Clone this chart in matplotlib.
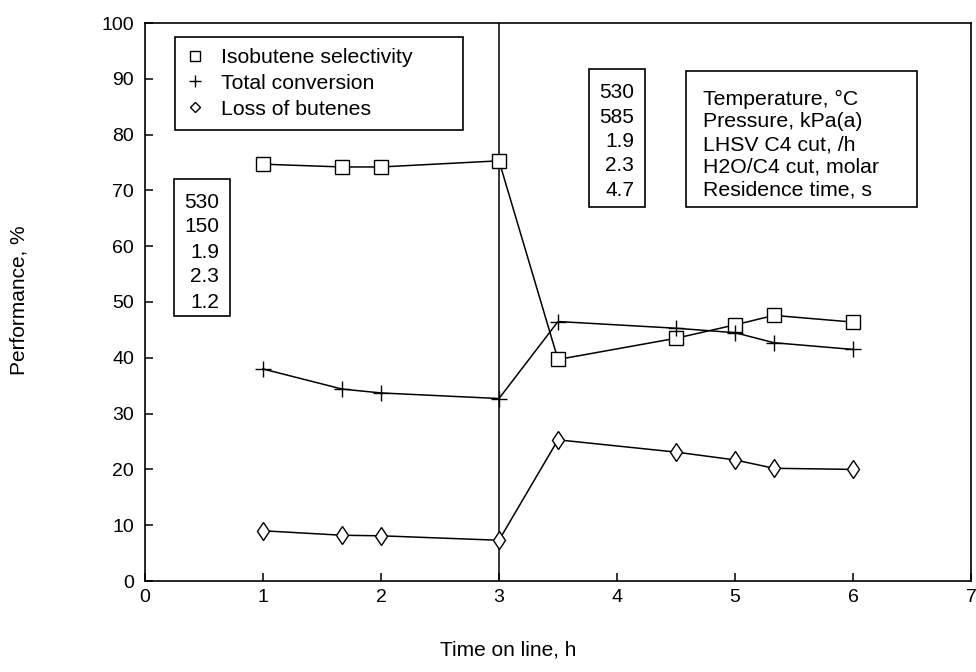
import matplotlib
matplotlib.use("Agg")
import matplotlib.pyplot as plt
from matplotlib.lines import Line2D
from matplotlib.patches import Rectangle

plt.rcParams['font.family'] = ['Liberation Sans', 'DejaVu Sans']

# datos
tiempo = [1.0, 1.67, 2.0, 3.0, 3.5, 4.5, 5.0, 5.33, 6.0]
selectividad = [74.7, 74.2, 74.2, 75.3, 39.7, 43.5, 45.9, 47.6, 46.4]
conversion = [38.0, 34.4, 33.7, 32.7, 46.5, 45.3, 44.5, 42.7, 41.5]
perdida = [9.0, 8.2, 8.1, 7.3, 25.3, 23.1, 21.7, 20.2, 20.0]
t_cambio = 3.0

cond_1 = ['530', '150', '1.9', '2.3', '1.2']
cond_2 = ['530', '585', '1.9', '2.3', '4.7']
nombres_cond = ['Temperature, °C', 'Pressure, kPa(a)', 'LHSV C4 cut, /h',
                'H2O/C4 cut, molar', 'Residence time, s']

W, H = 976, 672
fig = plt.figure(figsize=(W / 100, H / 100), dpi=100)
X0, X1, Y0, Y1 = 145, 971, 581, 23
ax = fig.add_axes([X0 / W, 1 - Y0 / H, (X1 - X0) / W, (Y0 - Y1) / H])


def px(x, y):
    # pixel de la imagen -> coordenadas del eje
    return (x - X0) / (X1 - X0), (Y0 - y) / (Y0 - Y1)


lw = 1.1
ax.plot(tiempo, selectividad, color='black', lw=lw, marker='s', ms=9.5,
        mfc='white', mec='black', mew=1.0, zorder=3)
ax.plot(tiempo, conversion, color='black', lw=lw, marker='+', ms=11,
        mew=1.0, zorder=3)
ax.plot(tiempo, perdida, color='black', lw=lw, marker='d', ms=9.5,
        mfc='white', mec='black', mew=1.0, zorder=3)
ax.axvline(t_cambio, color='black', lw=1.1, zorder=2)

ax.set_xlim(0, 7)
ax.set_ylim(0, 100)
ax.set_xticks(range(0, 8))
ax.set_yticks(range(0, 101, 10))
ax.tick_params(direction='in', length=6, width=1.1, labelsize=14)
ax.tick_params(axis='y', pad=8)
ax.tick_params(axis='x', pad=6)
for s in ax.spines.values():
    s.set_linewidth(1.2)

ax.set_xlabel('Time on line, h', fontsize=15)
ax.set_ylabel('Performance, %', fontsize=15)
ax.xaxis.set_label_coords(*px(508, 640))
ax.yaxis.set_label_coords(*px(29, 300))

# leyenda
handles = [
    Line2D([], [], ls='none', marker='s', ms=6.5, mfc='white', mec='black', mew=1.0),
    Line2D([], [], ls='none', marker='+', ms=8, mec='black', mew=1.0),
    Line2D([], [], ls='none', marker='D', ms=5, mfc='white', mec='black', mew=1.0),
]
lx0, ly0 = px(175, 130)
lx1, ly1 = px(463, 37)
leg = ax.legend(handles, ['Isobutene selectivity', 'Total conversion', 'Loss of butenes'],
                loc='upper left', bbox_to_anchor=(lx0, ly0, lx1 - lx0, ly1 - ly0),
                mode='expand', fontsize=15.3, frameon=True, fancybox=False,
                edgecolor='black', framealpha=1, borderaxespad=0, borderpad=0.52,
                handlelength=0.8, handletextpad=0.85, labelspacing=0.32)
leg.get_frame().set_linewidth(1.2)


def caja(x0, y0, x1, y1):
    a, b = px(x0, y1)
    c, d = px(x1, y0)
    ax.add_patch(Rectangle((a, b), c - a, d - b, transform=ax.transAxes,
                           fill=True, facecolor='white', edgecolor='black',
                           lw=1.2, zorder=4))


# condiciones
caja(174, 179, 230, 316)
for i, v in enumerate(cond_1):
    ax.text(*px(219, 202 + 25 * i), v, transform=ax.transAxes, ha='right',
            va='center', fontsize=15, zorder=5)

caja(589, 69, 645, 207)
for i, v in enumerate(cond_2):
    ax.text(*px(634, 93 + 24.3 * i), v, transform=ax.transAxes, ha='right',
            va='center', fontsize=15, zorder=5)

caja(686, 71, 917, 207)
for i, v in enumerate(nombres_cond):
    ax.text(*px(703, 99 + 22.8 * i), v, transform=ax.transAxes, ha='left',
            va='center', fontsize=15.3, zorder=5)

fig.savefig('out.png', dpi=100)
